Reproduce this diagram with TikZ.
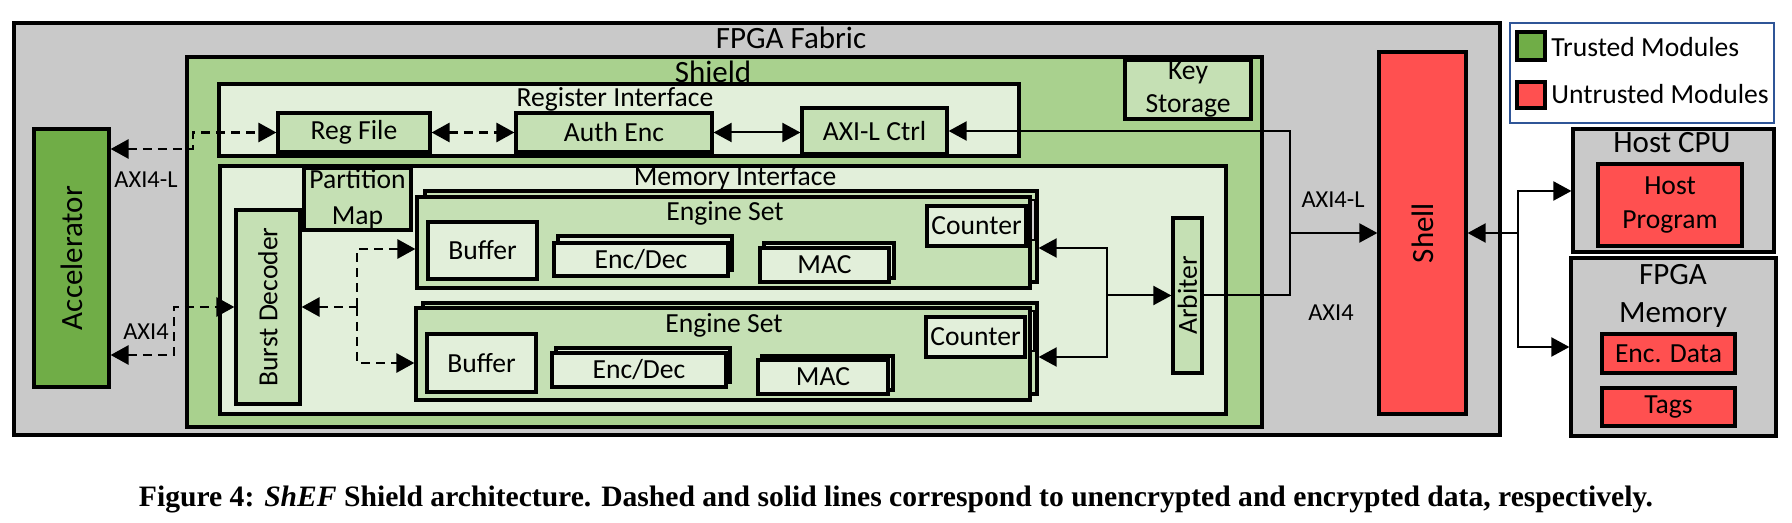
\documentclass[tikz,border=0pt]{standalone}
\usepackage{fontspec}
\usepackage{graphicx}
\setmainfont{Carlito}
\newfontfamily\capfont{Liberation Serif}
\usetikzlibrary{fit,arrows.meta}
\definecolor{fab}{HTML}{C9C9C9}
\definecolor{shd}{HTML}{A9D18E}
\definecolor{lgt}{HTML}{E2EFDA}
\definecolor{mid}{HTML}{C5E0B4}
\definecolor{accg}{HTML}{70AD47}
\definecolor{untr}{HTML}{FF5050}
\definecolor{lgb}{HTML}{2F5597}
\definecolor{cgray}{HTML}{D0D0D0}
\begin{document}
\begin{tikzpicture}[x=0.5pt,y=-0.5pt,
  box/.style={draw, line width=1.6pt, inner sep=0pt},
  gbox/.style={box, fill=mid},
  wbox/.style={box, fill=lgt},
  rbox/.style={box, fill=untr},
  graybox/.style={box, fill=fab},
  thinbox/.style={draw, line width=0.9pt, inner sep=0pt},
  lbl/.style={font=\fontsize{13.8}{16.5}\selectfont, align=center, inner sep=0pt},
  ttl/.style={font=\fontsize{15.5}{19}\selectfont, align=center, inner sep=0pt},
  sml/.style={font=\fontsize{12.2}{14}\selectfont, inner sep=0pt},
  con/.style={line width=1pt},
  dsh/.style={line width=1.4pt, dash pattern=on 4.5pt off 3pt},
  >={Triangle[length=9pt,width=9.5pt]}
]
\useasboundingbox (0,0) rectangle (1792,523);

% FPGA fabric
\node[graybox, fit={(14,23)(1500,435)}] (fabric) {};
\node[ttl] (fabrict) at (791,38) {FPGA Fabric};

% Legend
\node[draw=lgb, line width=1.2pt, fill=white, inner sep=0pt, fit={(1510,23)(1774,123)}] (legend) {};
\node[box, fill=accg, fit={(1517,32)(1545,60)}] (swg) {};
\node[box, fill=untr, fit={(1517,82)(1545,108)}] (swr) {};
\node[lbl, anchor=west] (lgt1) at (1551,47) {Trusted Modules};
\node[lbl, anchor=west] (lgt2) at (1551,94) {Untrusted Modules};

% Host CPU
\node[graybox, fit={(1573,129)(1774,252)}] (hcpu) {};
\node[ttl] (hcput) at (1672,143) {Host CPU};
\node[rbox, fit={(1598,164)(1742,246)}] (hprog) {};
\node[lbl, font=\fontsize{13.8}{17}\selectfont] (hprogt) at (hprog.center) {Host\\Program};

% FPGA memory
\node[graybox, fit={(1571,258)(1776,436)}] (fmem) {};
\node[ttl] (fmemt) at (1673,296) {FPGA\\Memory};
\node[rbox, fit={(1602,334)(1735,373)}] (encd) {};
\node[lbl] (encdt) at (encd.center) {Enc. Data};
\node[rbox, fit={(1602,388)(1735,426)}] (tags) {};
\node[lbl] (tagst) at (tags.center) {Tags};

% Shell
\node[rbox, fit={(1379,52)(1466,414)}] (shell) {};
\node[ttl, rotate=90] (shellt) at (shell.center) {Shell};

% Accelerator
\node[box, fill=accg, fit={(34,129)(109,387)}] (acc) {};
\node[ttl, rotate=90] (acct) at (acc.center) {Accelerator};

% Shield
\node[box, fill=shd, fit={(187,57)(1262,427)}] (shield) {};
\node[ttl] (shieldt) at (713,72) {Shield};
\node[gbox, fit={(1125,60)(1251,119)}] (key) {};
\node[lbl] (keyt) at (key.center) {Key\\Storage};

% Register interface
\node[wbox, fit={(219,84)(1019,156)}] (regif) {};
\node[lbl] (regift) at (615,99) {Register Interface};
\node[gbox, fit={(278,113)(430,152)}] (reg) {};
\node[lbl] (regt) at (reg.center) {Reg File};
\node[gbox, fit={(516,113)(712,152)}] (auth) {};
\node[lbl] (autht) at (auth.center) {Auth Enc};
\node[gbox, fit={(802,108)(947,154)}] (axil) {};
\node[lbl] (axilt) at (axil.center) {AXI-L Ctrl};

% Memory interface
\node[wbox, fit={(220,166)(1226,414)}] (memif) {};
\node[lbl] (memift) at (735,178) {Memory Interface};
\node[gbox, fit={(304,168)(411,230)}] (pmap) {};
\node[lbl, font=\fontsize{13.8}{18}\selectfont] (pmapt) at (pmap.center) {Partition\\Map};
\node[gbox, fit={(236,210)(300,404)}] (burst) {};
\node[lbl, rotate=90] (burstt) at (burst.center) {Burst Decoder};

% Engine set 1
\node[gbox, fit={(425,191)(1037,282)}] (es1b) {};
\node[thinbox, fill=cgray, fit={(933,200)(1035,240)}] (cnt1b) {};
\node[gbox, fit={(417,197)(1030,288)}] (es1f) {};
\node[lbl] (es1t) at (725,213) {Engine Set};
\node[wbox, fit={(428,222)(537,279)}] (buf1) {};
\node[lbl] (buf1t) at (buf1.center) {Buffer};
\node[wbox, fit={(558,236)(732,270)}] (ed1b) {};
\node[wbox, fit={(554,243)(728,276)}] (ed1) {};
\node[lbl] (ed1t) at (ed1.center) {Enc/Dec};
\node[wbox, fit={(764,243)(894,278)}] (mac1b) {};
\node[wbox, fit={(760,248)(889,282)}] (mac1) {};
\node[lbl] (mac1t) at (mac1.center) {MAC};
\node[wbox, fit={(927,206)(1026,246)}] (cnt1) {};
\node[lbl] (cnt1t) at (cnt1.center) {Counter};

% Engine set 2
\node[gbox, fit={(423,303)(1037,394)}] (es2b) {};
\node[thinbox, fill=lgt, fit={(932,311)(1034,351)}] (cnt2b) {};
\node[gbox, fit={(416,308)(1030,400)}] (es2f) {};
\node[lbl] (es2t) at (724,325) {Engine Set};
\node[wbox, fit={(427,334)(536,392)}] (buf2) {};
\node[lbl] (buf2t) at (buf2.center) {Buffer};
\node[wbox, fit={(556,348)(730,382)}] (ed2b) {};
\node[wbox, fit={(552,353)(726,387)}] (ed2) {};
\node[lbl] (ed2t) at (ed2.center) {Enc/Dec};
\node[wbox, fit={(762,356)(893,390)}] (mac2b) {};
\node[wbox, fit={(758,360)(888,394)}] (mac2) {};
\node[lbl] (mac2t) at (mac2.center) {MAC};
\node[wbox, fit={(926,317)(1025,357)}] (cnt2) {};
\node[lbl] (cnt2t) at (cnt2.center) {Counter};

% Arbiter
\node[gbox, fit={(1173,218)(1202,373)}] (arb) {};
\node[lbl, rotate=90] (arbt) at (arb.center) {Arbiter};

% junction coordinates
\coordinate (a1) at (193,149);
\coordinate (b1) at (174,355);
\coordinate (d0) at (357,307);
\coordinate (d1) at (357,249);
\coordinate (d2) at (357,363);
\coordinate (j1) at (1290,233);
\coordinate (j2) at (1107,295.5);
\coordinate (t1) at (1107,248);
\coordinate (t2) at (1107,357);
\coordinate (h0) at (1518,233);
\coordinate (h1) at (1518,191);
\coordinate (h2) at (1518,347);

% dashed (unencrypted) connectors
\draw[dsh,<->] (acc.east |- a1) -- (a1) |- (reg.west);
\draw[dsh,<->] (reg.east) -- (auth.west);
\draw[dsh,<->] (acc.east |- b1) -- (b1) |- (burst.west);
\draw[dsh,<-] (burst.east) -- (d0);
\draw[dsh,->] (d0) -- (d1) -- (es1f.west |- d1);
\draw[dsh,->] (d0) -- (d2) -- (es2f.west |- d2);

% solid (encrypted) connectors
\draw[con,<->] (auth.east) -- (auth.east -| axil.west);
\draw[con,<->] (axil.east) -| (j1) -- (shell.west |- j1);
\draw[con] (arb.east) -| (j1);
\draw[con,->] (j2) -- (arb.west);
\draw[con,<->] (es1b.east |- t1) -- (t1) -- (t2) -- (es2b.east |- t2);
\draw[con,<-] (shell.east |- h0) -- (h0);
\draw[con,->] (h0) -- (h1) -- (hcpu.west |- h1);
\draw[con,->] (h0) -- (h2) -- (fmem.west |- h2);

% connector labels
\node[sml] (l1) at (146,180) {AXI4-L};
\node[sml] (l2) at (146,332) {AXI4};
\node[sml] (l3) at (1333,200) {AXI4-L};
\node[sml] (l4) at (1331,313) {AXI4};

% caption
\node[inner sep=0pt] (cap) at (896,499) {\resizebox{757pt}{!}{\capfont\bfseries Figure 4: \textit{ShEF} Shield architecture. Dashed and solid lines correspond to unencrypted and encrypted data, respectively.}};
\end{tikzpicture}
\end{document}
